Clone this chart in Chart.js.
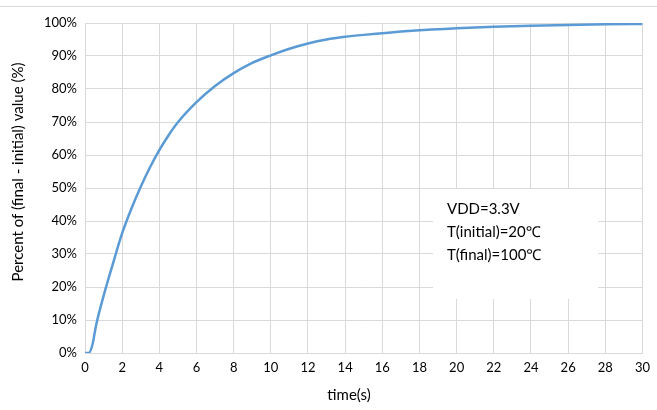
<!DOCTYPE html>
<html>
<head>
<meta charset="utf-8">
<script src="https://cdn.jsdelivr.net/npm/chart.js@4"></script>
<style>
  html, body { margin: 0; padding: 0; background: #fff; }
  #wrap { width: 657px; height: 410px; }
</style>
</head>
<body>
<div id="wrap"><canvas id="respChart" width="657" height="410"></canvas></div>
<script>
// time (s) and response (% of final - initial)
var timeValues = [0, 0.2, 0.4, 0.6, 1, 1.5, 2, 2.5, 3, 3.5, 4, 4.5, 5, 6, 7, 8, 9, 10, 11, 12, 13, 14, 15, 16, 17, 18, 19, 20, 22, 24, 26, 28, 30];
var pctValues  = [0, 0, 2.5, 8.5, 17.3, 27, 36.3, 43.8, 50.4, 56.3, 61.5, 66.0, 69.9, 76.0, 80.9, 84.8, 87.9, 90.2, 92.2, 93.8, 95.0, 95.8, 96.4, 96.9, 97.4, 97.8, 98.1, 98.4, 98.9, 99.2, 99.4, 99.6, 99.7];
var noteLines = ["VDD=3.3V", "T(initial)=20\u2103", "T(final)=100\u2103"];
var xTitle = "time(s)";
var yTitle = "Percent of (final - initial) value (%)";

var pts = timeValues.map(function(t, i) { return {x: t, y: pctValues[i]}; });
var gridCol = "#d9d9d9";
var fontFam = "Lato, 'Noto Sans', sans-serif";

// note box, axis titles and top border line
var extras = {
  id: "extras",
  afterDraw: function(chart) {
    var c = chart.ctx;
    c.save();
    c.strokeStyle = gridCol;
    c.lineWidth = 1;
    c.beginPath();
    c.moveTo(0, 6.5);
    c.lineTo(657, 6.5);
    c.stroke();

    c.fillStyle = "#fff";
    c.fillRect(433, 189, 165, 110);
    c.fillStyle = "#000";
    c.font = "15px " + fontFam;
    c.textBaseline = "middle";
    c.textAlign = "left";
    noteLines.forEach(function(s, i) { c.fillText(s, 447, 209 + i * 23); });

    c.textAlign = "center";
    c.fillText(xTitle, 349, 395);
    c.translate(18, 172);
    c.rotate(-Math.PI / 2);
    c.fillText(yTitle, 0, 0);
    c.restore();
  }
};

new Chart(document.getElementById("respChart"), {
  type: "line",
  data: {
    datasets: [{
      data: pts,
      borderColor: "#5b9bd5",
      borderWidth: 2.5,
      pointRadius: 0,
      cubicInterpolationMode: "monotone",
      fill: false
    }]
  },
  options: {
    responsive: false,
    animation: false,
    layout: { padding: { left: 0, top: 23, right: 10, bottom: 0 } },
    plugins: { legend: { display: false }, tooltip: { enabled: false } },
    scales: {
      x: {
        type: "linear",
        min: 0, max: 30,
        ticks: { stepSize: 2, color: "#000", font: { family: fontFam, size: 13 }, padding: 7, maxRotation: 0 },
        grid: { color: gridCol, drawTicks: false },
        border: { color: gridCol },
        afterFit: function(s) { s.height = 57; }
      },
      y: {
        min: 0, max: 100,
        ticks: {
          stepSize: 10, color: "#000", padding: 8,
          font: { family: fontFam, size: 13 },
          callback: function(v) { return v + "%"; }
        },
        grid: { color: gridCol, drawTicks: false },
        border: { color: gridCol },
        afterFit: function(s) { s.width = 85; }
      }
    }
  },
  plugins: [extras]
});
</script>
</body>
</html>
